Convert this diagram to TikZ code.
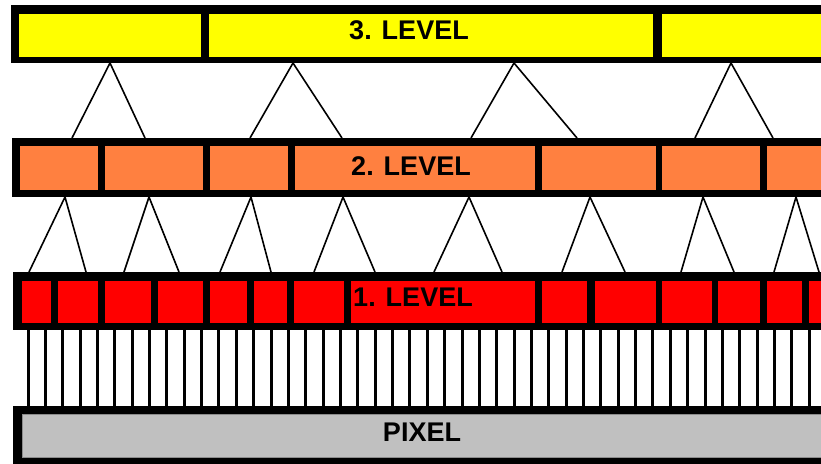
\documentclass[tikz,border=0pt]{standalone}
\usepackage{fontspec}
\setmainfont{Liberation Sans}
\usetikzlibrary{calc}
\definecolor{lvlyellow}{RGB}{255,255,0}
\definecolor{lvlorange}{RGB}{255,128,64}
\definecolor{lvlred}{RGB}{255,0,0}
\definecolor{pixgrey}{RGB}{192,192,192}
\tikzstyle{band} = [rectangle, fill=black, inner sep=0pt, outer sep=0pt, minimum width=830, anchor=north west]
\tikzstyle{lvltext} = [font=\fontsize{27}{32}\selectfont\bfseries, anchor=base, inner sep=0pt]
\tikzstyle{branch} = [line width=1.6pt, black]
\tikzstyle{column} = [line width=3pt, black]

\begin{document}
\begin{tikzpicture}[x=1pt, y=-1pt]
	\useasboundingbox (0,0) rectangle (821,463);
	\clip (0,0) rectangle (821,463);
	\node (lvl3) [band, minimum height=58] at (11,5) {};
	\node (lvl2) [band, minimum height=59] at (12,138) {};
	\node (lvl1) [band, minimum height=58] at (13,272) {};
	\node (pix) [band, minimum height=60] at (13,406) {};
	%cells
	\foreach \a/\b in {19/201, 209/653, 662/830}
		\fill[lvlyellow] (\a,14) rectangle (\b,57);
	\foreach \a/\b in {20/98, 105/203, 210/288, 295/535, 542/656, 662/760, 767/830}
		\fill[lvlorange] (\a,146) rectangle (\b,190);
	\foreach \a/\b in {22/51, 58/98, 105/151, 158/203, 210/247, 254/287, 294/344, 351/535, 542/587, 595/656, 662/712, 718/760, 767/802, 809/830}
		\fill[lvlred] (\a,281) rectangle (\b,323);
	\filldraw[fill=pixgrey, draw=black!45, line width=0.8pt] (22,414) rectangle (830,457);
	%lines
	\foreach \t/\l/\r in {110/72/145, 293/250/342, 514/471/577, 731/695/773}
		\draw [branch] (\l,0 |- lvl2.north) -- (\t,0 |- lvl3.south) -- (\r,0 |- lvl2.north);
	\foreach \t/\l/\r in {65/29/86, 149/124/179, 251/220/271, 343/314/375, 469/434/502, 590/562/625, 703/681/734, 796/774/819}
		\draw [branch] (\l,0 |- lvl1.north) -- (\t,0 |- lvl2.south) -- (\r,0 |- lvl1.north);
	\foreach \k [evaluate=\k as \cx using 28+17.36*\k] in {0,...,45}
		\draw [column] (\cx,0 |- lvl1.south) -- (\cx,0 |- pix.north);
	%texts
	\node (t3) [lvltext] at (409,39) {3. LEVEL};
	\node (t2) [lvltext] at (411,175) {2. LEVEL};
	\node (t1) [lvltext] at (413,306) {1. LEVEL};
	\node (tp) [lvltext] at (422,441) {PIXEL};
\end{tikzpicture}
\end{document}
